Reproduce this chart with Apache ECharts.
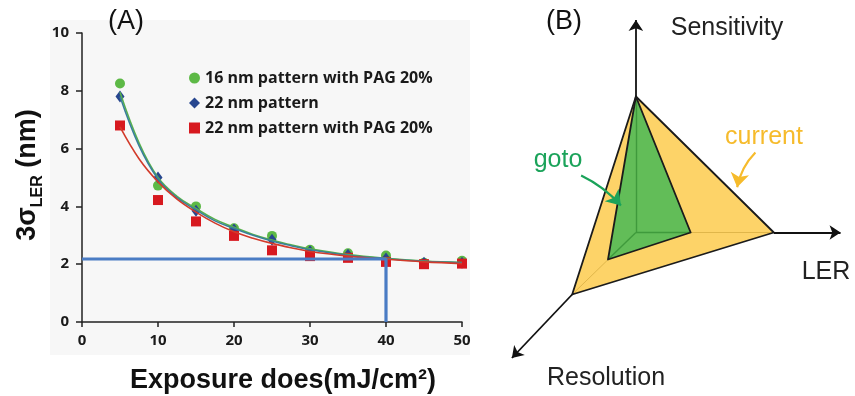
<!DOCTYPE html>
<html>
<head>
<meta charset="utf-8">
<script src="https://cdn.jsdelivr.net/npm/echarts@6/dist/echarts.min.js"></script>
<style>
html, body { margin: 0; padding: 0; background: #fff; }
#main { width: 855px; height: 396px; }
</style>
</head>
<body>
<div id="main"></div>
<script>
// (A) measured line edge roughness vs exposure dose
var doses = [5, 10, 15, 20, 25, 30, 35, 40, 45, 50];
var ler16Pag = [8.25, 4.72, 4.0, 3.24, 2.98, 2.5, 2.38, 2.3, 2.05, 2.12];
var ler22 = [7.8, 5.0, 3.85, 3.2, 2.85, 2.45, 2.33, 2.2, 2.05, 2.05];
var ler22Pag = [6.8, 4.22, 3.48, 2.98, 2.48, 2.28, 2.22, 2.08, 2.0, 2.02];

// fitted curves
var fitDoses = [5, 7.5, 10, 12.5, 15, 17.5, 20, 22.5, 25, 27.5, 30, 35, 40, 45, 50];
var fit16Pag = [7.95, 6.2, 5.0, 4.35, 3.93, 3.55, 3.28, 3.03, 2.84, 2.67, 2.53, 2.33, 2.2, 2.11, 2.06];
var fit22 = [7.8, 6.1, 4.95, 4.3, 3.88, 3.5, 3.24, 3.0, 2.8, 2.64, 2.5, 2.31, 2.19, 2.1, 2.05];
var fit22Pag = [6.75, 5.65, 4.85, 4.25, 3.8, 3.42, 3.12, 2.9, 2.72, 2.57, 2.44, 2.28, 2.17, 2.08, 2.02];

// target: 2.18 nm reached at 40 mJ/cm2
var targetPath = [[0, 2.18], [40, 2.18], [40, 0]];

var seriesNames = ['16 nm pattern with PAG 20%', '22 nm pattern', '22 nm pattern with PAG 20%'];

// (B) trade-off pyramid, in its own units (origin = back corner)
var corner = [0, 0];
var currentTri = [[0, 13.6], [13.85, 0], [-6.4, -6.2]];
var gotoTri = [[0, 13.6], [5.5, 0], [-2.8, -2.7]];
var axisEnds = [[0, 21.25], [20.55, 0], [-12.45, -12.55]];
var currentNote = [[12.0, 8.0], [10.17, 4.53]];
var gotoNote = [[-5.5, 5.7], [-1.5, 2.7]];

function pairs(xs, ys) {
  return xs.map(function (x, i) { return [x, ys[i]]; });
}

function triangle(points, fill, stroke, z) {
  return {
    type: 'custom',
    xAxisIndex: 1,
    yAxisIndex: 1,
    silent: true,
    z: z,
    data: [points[0]],
    renderItem: function (params, api) {
      return {
        type: 'polygon',
        shape: { points: points.map(function (p) { return api.coord(p); }) },
        style: { fill: fill, stroke: stroke, lineWidth: 1.8, lineJoin: 'round' }
      };
    }
  };
}

function edges(from, tos, color, width, z, arrow) {
  return {
    type: 'lines',
    coordinateSystem: 'cartesian2d',
    xAxisIndex: 1,
    yAxisIndex: 1,
    silent: true,
    z: z,
    symbol: arrow ? ['none', 'arrow'] : 'none',
    symbolSize: 11,
    lineStyle: { color: color, width: width, opacity: 1 },
    data: tos.map(function (t, i) { return { coords: [from[i] || from, t] }; })
  };
}

function note(path, color, curve) {
  return {
    type: 'lines', coordinateSystem: 'cartesian2d', xAxisIndex: 1, yAxisIndex: 1, silent: true, z: 8,
    symbol: ['none', 'arrow'], symbolSize: 14,
    lineStyle: { color: color, width: 2.2, curveness: curve, opacity: 1 },
    data: [{ coords: path }]
  };
}

var chart = echarts.init(document.getElementById('main'));

var option = {
  animation: false,
  backgroundColor: '#fff',
  grid: [
    { left: 82, top: 33, width: 380, height: 289 },
    { left: 486.5, top: 2.5, width: 370, height: 390 }
  ],
  legend: {
    orient: 'vertical',
    left: 184,
    top: 63,
    itemGap: 5,
    itemWidth: 11,
    itemHeight: 11,
    data: seriesNames,
    textStyle: { fontFamily: 'Open Sans', fontWeight: 'bold', fontSize: 16, color: '#1a1a1a', lineHeight: 20 }
  },
  xAxis: [
    {
      type: 'value', gridIndex: 0, min: 0, max: 50, interval: 10,
      axisLine: { lineStyle: { color: '#222', width: 1.5 } },
      axisTick: { length: 5, lineStyle: { color: '#222', width: 1.5 } },
      axisLabel: { fontFamily: 'Open Sans', fontWeight: 'bold', fontSize: 15, color: '#1a1a1a', margin: 11 },
      splitLine: { show: false }
    },
    { type: 'value', gridIndex: 1, min: -15, max: 22, show: false, splitLine: { show: false } }
  ],
  yAxis: [
    {
      type: 'value', gridIndex: 0, min: 0, max: 10, interval: 2,
      axisLine: { show: true, lineStyle: { color: '#222', width: 1.5 } },
      axisTick: { show: true, length: 6, lineStyle: { color: '#222', width: 1.5 } },
      axisLabel: { fontFamily: 'Open Sans', fontWeight: 'bold', fontSize: 15, color: '#1a1a1a', margin: 13 },
      splitLine: { show: false }
    },
    { type: 'value', gridIndex: 1, min: -16, max: 23, show: false, splitLine: { show: false } }
  ],
  graphic: [
    { type: 'rect', z: -10, silent: true, shape: { x: 50, y: 20, width: 420, height: 335 }, style: { fill: '#f7f7f7' } },
    { type: 'text', x: 126, y: 22, style: { text: '(A)', font: '27px "Liberation Sans"', fill: '#111', align: 'center', verticalAlign: 'middle' } },
    { type: 'text', x: 564, y: 22, style: { text: '(B)', font: '27px "Liberation Sans"', fill: '#111', align: 'center', verticalAlign: 'middle' } },
    {
      type: 'text', x: 30, y: 175, rotation: Math.PI / 2,
      style: {
        text: '{a|3σ}{b|LER}{a| (nm)}',
        align: 'center', verticalAlign: 'middle',
        rich: {
          a: { fontFamily: 'Liberation Sans', fontWeight: 'bold', fontSize: 27, lineHeight: 32, verticalAlign: 'top', fill: '#111' },
          b: { fontFamily: 'Liberation Sans', fontWeight: 'bold', fontSize: 16, lineHeight: 16, verticalAlign: 'bottom', fill: '#111' }
        }
      }
    },
    { type: 'text', x: 283, y: 381, style: { text: 'Exposure does(mJ/cm²)', font: 'bold 27px "Liberation Sans"', fill: '#111', align: 'center', verticalAlign: 'middle' } },
    { type: 'text', x: 727, y: 28, style: { text: 'Sensitivity', font: '25px "Liberation Sans"', fill: '#222', align: 'center', verticalAlign: 'middle' } },
    { type: 'text', x: 826, y: 272, style: { text: 'LER', font: '25px "Liberation Sans"', fill: '#222', align: 'center', verticalAlign: 'middle' } },
    { type: 'text', x: 606, y: 378, style: { text: 'Resolution', font: '25px "Liberation Sans"', fill: '#222', align: 'center', verticalAlign: 'middle' } },
    { type: 'text', x: 764, y: 137, style: { text: 'current', font: '25px "Liberation Sans"', fill: '#f6bb2c', align: 'center', verticalAlign: 'middle' } },
    { type: 'text', x: 558, y: 160, style: { text: 'goto', font: '25px "Liberation Sans"', fill: '#1ba35a', align: 'center', verticalAlign: 'middle' } }
  ],
  series: [
    {
      name: seriesNames[0], type: 'scatter', symbol: 'circle', symbolSize: 10,
      itemStyle: { color: '#5db946', opacity: 1 }, data: pairs(doses, ler16Pag), z: 2
    },
    {
      name: seriesNames[1], type: 'scatter', symbol: 'diamond', symbolSize: [9, 12],
      itemStyle: { color: '#27468f', opacity: 1 }, data: pairs(doses, ler22), z: 2
    },
    {
      name: seriesNames[2], type: 'scatter', symbol: 'rect', symbolSize: 10,
      itemStyle: { color: '#d7191f', opacity: 1 }, data: pairs(doses, ler22Pag), z: 2
    },
    {
      name: 'fit 16 nm PAG', type: 'line', smooth: 0.4, showSymbol: false, silent: true,
      lineStyle: { color: '#58b24c', width: 1.6 }, data: pairs(fitDoses, fit16Pag), z: 3
    },
    {
      name: 'fit 22 nm', type: 'line', smooth: 0.4, showSymbol: false, silent: true,
      lineStyle: { color: '#3a7f9a', width: 1.6 }, data: pairs(fitDoses, fit22), z: 3
    },
    {
      name: 'fit 22 nm PAG', type: 'line', smooth: 0.4, showSymbol: false, silent: true,
      lineStyle: { color: '#d23b2b', width: 1.6 }, data: pairs(fitDoses, fit22Pag), z: 3
    },
    {
      name: 'target', type: 'line', showSymbol: false, silent: true, z: 4,
      lineStyle: { color: '#4a7cc4', width: 3.2 }, data: targetPath
    },

    // (B) pyramid
    triangle(currentTri, '#fdd368', 'none', 2),
    edges(corner, currentTri, '#e0b64a', 1, 3),
    triangle(gotoTri, '#62bd58', 'none', 4),
    edges(corner, gotoTri, '#3f9a3c', 1.4, 5),
    triangle(gotoTri, 'none', '#1b1b1b', 6),
    triangle(currentTri, 'none', '#1b1b1b', 6),
    edges(currentTri, axisEnds, '#111', 1.8, 7, true),
    note(currentNote, '#f6bb2c', -0.15),
    note(gotoNote, '#1ba35a', 0.1)
  ]
};

chart.setOption(option);
</script>
</body>
</html>
